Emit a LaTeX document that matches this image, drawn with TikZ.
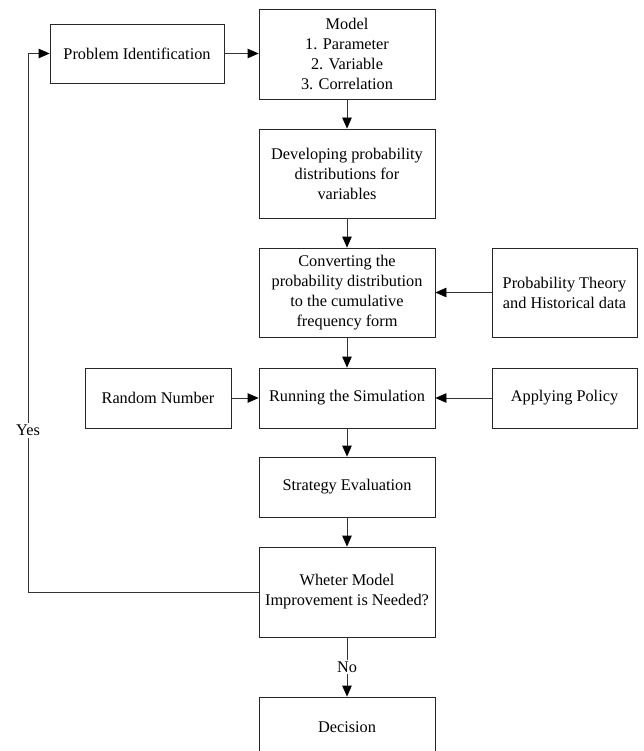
\documentclass[tikz,border=0pt]{standalone}
\usepackage{fontspec}
\setmainfont{Liberation Serif}
\usetikzlibrary{arrows.meta}
\begin{document}
\begin{tikzpicture}[x=1pt,y=-1pt,
  box/.style={draw=black!85, line width=0.8pt, align=center, inner sep=2pt,
    font=\fontsize{16.3}{20}\selectfont, anchor=center},
  conn/.style={draw=black!80, line width=0.8pt, -{Triangle[length=11pt,width=9.5pt,color=black,fill=black]}},
  lbl/.style={fill=white, inner sep=2pt, font=\fontsize{16.3}{20}\selectfont}]
\useasboundingbox (0,0) rectangle (643,751);
\clip (0,0) rectangle (643,751);
\node[box, minimum width=174pt, minimum height=59pt] (pi) at (137,53.5) {Problem Identification};
\node[box, minimum width=176pt, minimum height=90pt] (model) at (347,54) {Model\\1. Parameter\\2. Variable\\3. Correlation};
\node[box, minimum width=176pt, minimum height=89pt] (dev) at (347,173.5) {Developing probability\\distributions for\\variables};
\node[box, minimum width=176pt, minimum height=89pt] (conv) at (347,292.5) {Converting the\\probability distribution\\to the cumulative\\frequency form};
\node[box, minimum width=145pt, minimum height=89pt] (pt) at (564.5,292.5) {Probability Theory\\and Historical data};
\node[box, minimum width=146pt, minimum height=60pt] (rn) at (158,398) {Random Number};
\node[box, minimum width=176pt, minimum height=60pt] (run) at (347,398) {Running the Simulation};
\node[box, minimum width=145pt, minimum height=60pt] (ap) at (564.5,398) {Applying Policy};
\node[box, minimum width=176pt, minimum height=60pt] (strat) at (347,487) {Strategy Evaluation};
\node[box, minimum width=176pt, minimum height=90pt] (wh) at (347,592) {Wheter Model\\Improvement is Needed?};
\node[box, minimum width=176pt, minimum height=60pt] (dec) at (347,727) {Decision};
\coordinate (c1) at (28,592);
\coordinate (c2) at (28,53.5);
\draw[conn] (pi) -- (model.west |- pi);
\draw[conn] (model) -- (dev);
\draw[conn] (dev) -- (conv);
\draw[conn] (pt) -- (conv.east |- pt);
\draw[conn] (conv) -- (run);
\draw[conn] (rn) -- (run);
\draw[conn] (ap) -- (run);
\draw[conn] (run) -- (strat);
\draw[conn] (strat) -- (wh);
\draw[conn] (wh) -- node[lbl] (no) {No} (dec);
\draw[conn] (wh.west) -- (c1) -- node[lbl, pos=0.3] (yes) {Yes} (c2) -- (pi.west);
\end{tikzpicture}
\end{document}
